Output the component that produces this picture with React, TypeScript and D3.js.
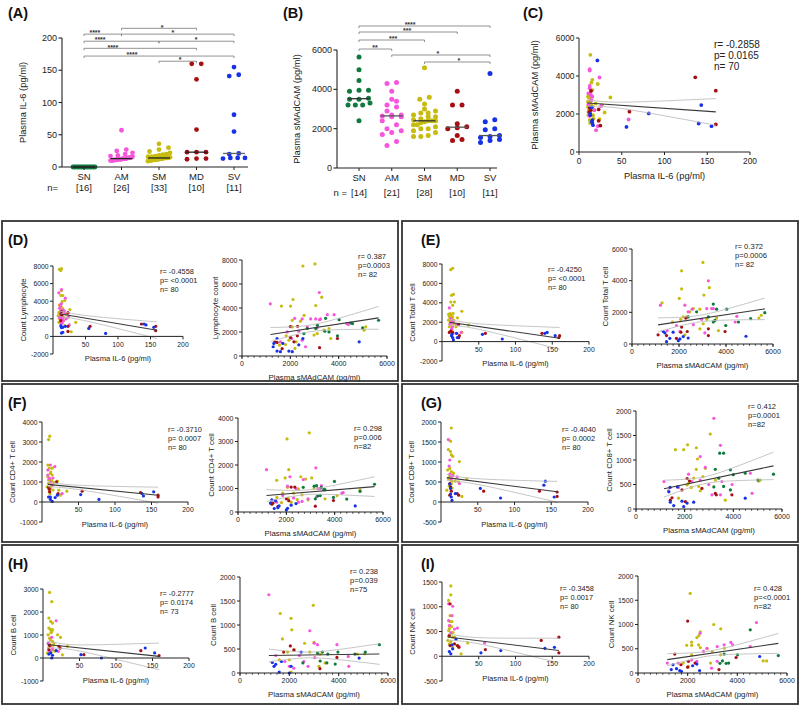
import React from 'react';
import * as d3 from 'd3';

const FONT = '"Liberation Sans", Arial, Helvetica, sans-serif';
const groups = ['SN', 'AM', 'SM', 'MD', 'SV'];
const groupColors = ['#107a3e', '#f656dc', '#c6bc0e', '#a50f13', '#1732e6'];
const colorOf = (g: string) => groupColors[groups.indexOf(g)];

// ---------- Panel A: plasma IL-6 by group ----------
const il6SN = [0, 0, 0, 0, 0, 0, 0, 0, 0, 0, 0, 0, 0, 0, 0, 0];
const il6AM = [57, 27, 25, 22, 20, 18, 17, 16, 15, 15, 14, 14, 13, 13, 13, 13, 12, 12, 12, 12, 11, 11, 11, 10, 10, 10];
const il6SM = [36, 30, 27, 24, 22, 20, 19, 18, 17, 16, 16, 15, 15, 15, 14, 14, 14, 14, 13, 13, 13, 13, 12, 12, 12, 12, 11, 11, 11, 10, 10, 10, 9];
const il6MD = [160, 160, 136, 58, 23, 23, 23, 13, 13, 12];
const il6SV = [155, 143, 141, 81, 55, 21, 20, 14, 14, 14, 13];
const il6Ticks = [0, 50, 100, 150, 200];
// [from, to, label, level value, label position (category index)]
const il6Sig: [number, number, string, number, number][] = [
  [1, 3, '*', 215, 2.08], [0, 1, '****', 206, 0.29], [1, 4, '*', 206, 2.37],
  [0, 2, '****', 195, 0.43], [2, 4, '*', 195, 2.99], [0, 3, '****', 184, 0.77],
  [0, 4, '****', 172, 1.28], [2, 3, '*', 164, 2.56],
];

// ---------- Panel B: plasma sMAdCAM by group ----------
const madSN = [5650, 5000, 4450, 3950, 3950, 3900, 3550, 3500, 3500, 3300, 3200, 3200, 3200, 2400];
const madAM = [4350, 4300, 3900, 3500, 3400, 3200, 3100, 2900, 2700, 2700, 2650, 2600, 2600, 2400, 2200, 2000, 1900, 1800, 1700, 1350, 1150];
const madSM = [5100, 3600, 3500, 3250, 3000, 2900, 2800, 2800, 2700, 2600, 2600, 2500, 2450, 2400, 2400, 2400, 2350, 2300, 2200, 2200, 2100, 2000, 2000, 1900, 1800, 1650, 1600, 1600];
const madMD = [3900, 3200, 3200, 2250, 2100, 2050, 2000, 1650, 1450, 1400];
const madSV = [4800, 2450, 2350, 2000, 1950, 1650, 1600, 1550, 1450, 1400, 1300];
const madTicks = [0, 2000, 4000, 6000];
const madSig: [number, number, string, number, number][] = [
  [0, 4, '****', 7220, 1.56], [0, 3, '***', 6915, 1.47], [0, 2, '***', 6508, 1.04],
  [0, 1, '**', 6050, 0.49], [1, 4, '*', 5745, 2.41], [2, 4, '*', 5390, 3.05],
];

type Pt = [number, number, string];

// ---------- Panel C: IL-6 vs sMAdCAM ----------
const cPts: Pt[] = [
  [13.3, 5115, 'SM'], [14.4, 3650, 'SM'], [15.6, 3260, 'SM'], [10.5, 2910, 'SM'], [12.5, 3000, 'SM'], [14, 2730, 'SM'], [10.5, 2380, 'SM'], [11.7, 2200, 'SM'], [13, 2030, 'SM'], [16.4, 1940, 'SM'], [17, 1760, 'SM'], [13, 1530, 'SM'], [22, 3580, 'SM'], [36.7, 2870, 'SM'], [27, 2470, 'SM'], [30, 2080, 'SM'], [24, 1730, 'SM'], [10.5, 2650, 'SM'], [14.5, 2470, 'SM'], [12.5, 1680, 'SM'], [15.6, 3800, 'SM'], [11, 1940, 'SM'], [19.5, 2560, 'SM'], [12, 2300, 'SM'], [11, 2100, 'SM'], [13, 2600, 'SM'], [16, 2400, 'SM'], [12, 2850, 'SM'], [18, 2200, 'SM'],
  [12.5, 4360, 'AM'], [12.5, 4290, 'AM'], [24, 3920, 'AM'], [12.5, 3480, 'AM'], [12.5, 3350, 'AM'], [11, 3090, 'AM'], [14.5, 2730, 'AM'], [26, 2420, 'AM'], [12.5, 1890, 'AM'], [22, 1360, 'AM'], [20, 1150, 'AM'], [58, 1710, 'AM'], [15.6, 2910, 'AM'], [18, 2200, 'AM'], [13, 2050, 'AM'], [11, 2500, 'AM'], [14, 3000, 'AM'],
  [14, 3210, 'MD'], [23, 2240, 'MD'], [23, 1640, 'MD'], [25, 1390, 'MD'], [59, 2120, 'MD'], [136, 3930, 'MD'], [160, 3230, 'MD'], [160, 1450, 'MD'], [13.7, 2200, 'MD'], [12.5, 2330, 'MD'], [12, 2100, 'MD'],
  [21.5, 4820, 'SV'], [14.8, 2350, 'SV'], [13.3, 1940, 'SV'], [15.6, 1680, 'SV'], [16.4, 1410, 'SV'], [15.6, 1530, 'SV'], [55.5, 1320, 'SV'], [81.6, 2030, 'SV'], [140, 1500, 'SV'], [143, 2470, 'SV'], [155, 1360, 'SV'], [13, 2000, 'SV'], [15, 1600, 'SV'],
];

// ---------- D: lymphocytes ----------
const dLeft: Pt[] = [
  [10, 7620, 'SM'], [13, 7700, 'SM'], [12, 7500, 'SM'], [13, 5220, 'SM'], [12, 4650, 'SM'], [10, 3580, 'SM'], [12, 3390, 'SM'], [15, 4650, 'SM'], [12, 2930, 'SM'], [12, 2550, 'SM'], [10, 2060, 'SM'], [13, 1900, 'SM'], [9, 1600, 'SM'], [26, 3050, 'SM'], [23, 2170, 'SM'], [35, 1600, 'SM'], [28, 530, 'SM'], [20, 2550, 'SM'], [15, 3120, 'SM'], [14, 3960, 'SM'], [18, 4080, 'SM'], [8, 2360, 'SM'], [18, 1220, 'SM'], [11, 2800, 'SM'], [16, 2200, 'SM'], [11, 2000, 'SM'], [14, 2400, 'SM'], [9, 2700, 'SM'], [16, 1800, 'SM'], [13, 3300, 'SM'], [12, 1700, 'SM'], [10, 2250, 'SM'], [17, 2900, 'SM'],
  [9, 4950, 'AM'], [13, 5330, 'AM'], [19, 4340, 'AM'], [13, 3700, 'AM'], [23, 2670, 'AM'], [24, 2250, 'AM'], [14, 1900, 'AM'], [12, 2860, 'AM'], [25, 1300, 'AM'], [15, 3000, 'AM'], [12, 2600, 'AM'], [14, 2100, 'AM'], [16, 1800, 'AM'], [10, 3200, 'AM'], [11, 2000, 'AM'], [13, 2450, 'AM'], [18, 2700, 'AM'], [12, 1600, 'AM'], [15, 2300, 'AM'], [20, 2000, 'AM'], [11, 3500, 'AM'], [17, 2900, 'AM'], [14, 1500, 'AM'], [10, 2200, 'AM'],
  [13, 2820, 'MD'], [13, 2360, 'MD'], [23, 2670, 'MD'], [12, 1790, 'MD'], [23, 1140, 'MD'], [23, 570, 'MD'], [57, 1140, 'MD'], [136, 1410, 'MD'], [158, 1140, 'MD'], [158, 650, 'MD'],
  [12, 1220, 'SV'], [15, 1030, 'SV'], [13, 380, 'SV'], [15, 460, 'SV'], [19, 1140, 'SV'], [55, 910, 'SV'], [81, 340, 'SV'], [140, 1410, 'SV'], [143, 1300, 'SV'], [155, 1030, 'SV'], [13, 1000, 'SV'],
];
const dRight: Pt[] = [
  [1630, 4160, 'SM'], [2110, 4710, 'SM'], [2010, 4160, 'SM'], [3050, 4210, 'SM'], [3300, 4900, 'SM'], [2080, 2980, 'SM'], [2570, 3390, 'SM'], [2420, 2900, 'SM'], [2080, 2420, 'SM'], [1830, 1680, 'SM'], [2980, 1740, 'SM'], [3110, 1870, 'SM'], [3390, 2150, 'SM'], [3600, 2290, 'SM'], [3670, 1460, 'SM'], [1800, 960, 'SM'], [2190, 630, 'SM'], [5120, 2420, 'SM'], [5050, 2150, 'SM'], [1940, 1320, 'SM'], [2240, 1180, 'SM'], [1550, 900, 'SM'], [2520, 7500, 'SM'], [3020, 7670, 'SM'],
  [1170, 4350, 'AM'], [3200, 5290, 'AM'], [2840, 3090, 'AM'], [2180, 3140, 'AM'], [2490, 3090, 'AM'], [3110, 2340, 'AM'], [3250, 3090, 'AM'], [3050, 3090, 'AM'], [3530, 3440, 'AM'], [4330, 2700, 'AM'], [4400, 2620, 'AM'], [3210, 3030, 'AM'], [2350, 2070, 'AM'], [2050, 1460, 'AM'], [2700, 2420, 'AM'], [1590, 1180, 'AM'], [3810, 3440, 'AM'], [2630, 770, 'AM'], [2490, 1320, 'AM'], [1870, 2010, 'AM'],
  [5650, 2980, 'SN'], [4990, 2340, 'SN'], [4570, 2700, 'SN'], [4020, 3030, 'SN'], [3950, 1680, 'SN'], [3430, 2070, 'SN'], [3600, 2010, 'SN'], [3120, 2560, 'SN'], [3050, 2290, 'SN'], [2700, 2290, 'SN'], [2560, 1870, 'SN'], [4500, 2750, 'SN'], [3460, 3140, 'SN'],
  [2010, 1540, 'MD'], [2290, 1680, 'MD'], [2150, 1180, 'MD'], [3950, 1460, 'MD'], [3210, 690, 'MD'], [1360, 1180, 'MD'], [1450, 1130, 'MD'], [1660, 610, 'MD'], [2000, 2450, 'MD'], [2300, 2480, 'MD'],
  [1450, 1460, 'SV'], [1320, 1050, 'SV'], [1450, 410, 'SV'], [1590, 360, 'SV'], [1940, 410, 'SV'], [2080, 360, 'SV'], [2350, 930, 'SV'], [2520, 1460, 'SV'], [4850, 1180, 'SV'], [1690, 1050, 'SV'], [1290, 770, 'SV'],
];

// ---------- E: total T cells ----------
const eLeft: Pt[] = [
  [12, 7420, 'SM'], [14.5, 7560, 'SM'], [13, 4770, 'SM'], [15.5, 4870, 'SM'], [12, 4080, 'SM'], [17, 4080, 'SM'], [11, 2890, 'SM'], [12, 2720, 'SM'], [14.5, 2550, 'SM'], [12, 2210, 'SM'], [11, 1870, 'SM'], [10, 1530, 'SM'], [9, 2210, 'SM'], [27, 3130, 'SM'], [36, 1700, 'SM'], [19, 1530, 'SM'], [21, 2450, 'SM'], [27, 950, 'SM'], [14.5, 3740, 'SM'], [11, 1020, 'SM'], [13.6, 1190, 'SM'], [16, 1870, 'SM'], [10, 2600, 'SM'], [13, 2400, 'SM'], [12, 2000, 'SM'], [15, 2900, 'SM'], [11, 2300, 'SM'], [9, 2800, 'SM'], [14, 1600, 'SM'], [16, 2200, 'SM'],
  [10, 3470, 'AM'], [13.6, 2110, 'AM'], [20, 1770, 'AM'], [26, 950, 'AM'], [19, 850, 'AM'], [12, 2380, 'AM'], [11, 1800, 'AM'], [14, 1500, 'AM'], [15, 2000, 'AM'], [13, 1300, 'AM'],
  [12, 1090, 'MD'], [22.7, 1770, 'MD'], [10, 950, 'MD'], [23.6, 610, 'MD'], [22.7, 410, 'MD'], [59, 850, 'MD'], [136, 850, 'MD'], [160, 610, 'MD'], [159, 410, 'MD'], [14.5, 950, 'MD'],
  [13.6, 750, 'SV'], [14.5, 410, 'SV'], [15.5, 170, 'SV'], [21, 410, 'SV'], [55, 750, 'SV'], [82, 270, 'SV'], [140, 850, 'SV'], [143, 950, 'SV'], [154, 610, 'SV'], [20, 850, 'SV'], [13, 600, 'SV'],
];
const eRight: Pt[] = [
  [1280, 2600, 'SM'], [2110, 3480, 'SM'], [2010, 2880, 'SM'], [3060, 3090, 'SM'], [3290, 3560, 'SM'], [2070, 1560, 'SM'], [2180, 1710, 'SM'], [2460, 2030, 'SM'], [2610, 2240, 'SM'], [3030, 1280, 'SM'], [3180, 1560, 'SM'], [3600, 1640, 'SM'], [3680, 850, 'SM'], [5500, 1810, 'SM'], [5400, 1640, 'SM'], [1720, 1390, 'SM'], [2320, 1710, 'SM'], [2890, 960, 'SM'], [2890, 2200, 'SM'], [2250, 580, 'SM'], [3020, 5150, 'SM'], [2110, 4620, 'SM'],
  [1210, 2450, 'AM'], [2250, 2450, 'AM'], [2560, 2200, 'AM'], [2390, 2030, 'AM'], [3180, 2240, 'AM'], [3390, 2240, 'AM'], [3460, 2240, 'AM'], [3250, 3990, 'AM'], [2960, 1560, 'AM'], [1890, 1170, 'AM'], [1500, 850, 'AM'], [3100, 700, 'AM'], [4460, 1750, 'AM'], [4390, 1390, 'AM'], [2610, 1220, 'AM'], [2040, 790, 'AM'],
  [3460, 2520, 'SN'], [3600, 2200, 'SN'], [4030, 2200, 'SN'], [3990, 1170, 'SN'], [4530, 1390, 'SN'], [5050, 1600, 'SN'], [5650, 1980, 'SN'], [3250, 1710, 'SN'], [3460, 1390, 'SN'], [3530, 1490, 'SN'], [2750, 2030, 'SN'], [2390, 1710, 'SN'],
  [1110, 580, 'MD'], [1470, 530, 'MD'], [2290, 1640, 'MD'], [1890, 360, 'MD'], [2080, 750, 'MD'], [3250, 960, 'MD'], [3250, 530, 'MD'], [3960, 790, 'MD'], [2350, 790, 'MD'], [2110, 1070, 'MD'],
  [1330, 790, 'SV'], [1400, 700, 'SV'], [1470, 150, 'SV'], [1610, 360, 'SV'], [1970, 210, 'SV'], [2040, 320, 'SV'], [2180, 470, 'SV'], [2390, 380, 'SV'], [4850, 490, 'SV'], [1750, 750, 'SV'],
];

// ---------- F: CD4+ T cells ----------
const fLeft: Pt[] = [
  [9, 3120, 'SM'], [10.6, 3290, 'SM'], [8, 1850, 'SM'], [10, 1690, 'SM'], [11.5, 1430, 'SM'], [8, 1260, 'SM'], [14, 1350, 'SM'], [9, 930, 'SM'], [13, 1100, 'SM'], [7, 760, 'SM'], [10, 510, 'SM'], [16, 980, 'SM'], [21, 1050, 'SM'], [23, 590, 'SM'], [34, 540, 'SM'], [25, 340, 'SM'], [14, 1690, 'SM'], [11.5, 670, 'SM'], [12, 1000, 'SM'], [10, 1200, 'SM'], [13, 800, 'SM'], [9, 1100, 'SM'], [15, 600, 'SM'], [11, 400, 'SM'], [12, 1500, 'SM'],
  [11.5, 1850, 'AM'], [17.5, 1770, 'AM'], [8, 1350, 'AM'], [10, 1180, 'AM'], [27.6, 420, 'AM'], [14, 840, 'AM'], [8, 1600, 'AM'], [12, 1000, 'AM'], [15, 1200, 'AM'],
  [9, 730, 'MD'], [10.6, 510, 'MD'], [20, 1010, 'MD'], [22, 420, 'MD'], [55, 540, 'MD'], [135, 470, 'MD'], [159, 340, 'MD'], [159, 250, 'MD'], [10, 640, 'MD'],
  [9, 250, 'SV'], [11.5, 250, 'SV'], [11.5, 130, 'SV'], [14, 30, 'SV'], [21, 340, 'SV'], [53, 370, 'SV'], [78, 130, 'SV'], [137, 420, 'SV'], [139, 300, 'SV'], [153, 510, 'SV'], [18, 220, 'SV'],
];
const fRight: Pt[] = [
  [2030, 3110, 'SM'], [2950, 3370, 'SM'], [1600, 1350, 'SM'], [1950, 1450, 'SM'], [2100, 1800, 'SM'], [2050, 1050, 'SM'], [2600, 1500, 'SM'], [2800, 1400, 'SM'], [3050, 1450, 'SM'], [2500, 980, 'SM'], [2300, 800, 'SM'], [2650, 730, 'SM'], [4100, 700, 'SM'], [5050, 940, 'SM'], [2900, 520, 'SM'], [1610, 620, 'SM'], [2080, 590, 'SM'], [1850, 800, 'SM'], [2450, 530, 'SM'], [3150, 1000, 'SM'], [1800, 400, 'SM'], [3600, 560, 'SM'], [2200, 420, 'SM'],
  [1180, 1800, 'AM'], [2150, 1500, 'AM'], [2700, 1380, 'AM'], [3220, 1880, 'AM'], [3450, 1120, 'AM'], [3400, 1000, 'AM'], [2400, 1000, 'AM'], [1850, 700, 'AM'], [2300, 600, 'AM'], [2500, 420, 'AM'], [2900, 560, 'AM'], [3300, 1000, 'AM'], [4300, 800, 'AM'], [4350, 830, 'AM'], [3250, 650, 'AM'], [2650, 450, 'AM'], [1600, 420, 'AM'], [2050, 1100, 'AM'],
  [3990, 1300, 'SN'], [3450, 1050, 'SN'], [3550, 950, 'SN'], [3600, 950, 'SN'], [3250, 1120, 'SN'], [3150, 1100, 'SN'], [5650, 1180, 'SN'], [5050, 880, 'SN'], [4500, 550, 'SN'], [3950, 620, 'SN'], [3400, 700, 'SN'], [3300, 680, 'SN'], [2700, 1050, 'SN'], [3200, 560, 'SN'],
  [1350, 380, 'MD'], [1450, 380, 'MD'], [1650, 230, 'MD'], [2200, 1060, 'MD'], [2350, 1060, 'MD'], [3200, 250, 'MD'], [3950, 490, 'MD'], [1400, 330, 'MD'], [2000, 560, 'MD'], [2100, 480, 'MD'],
  [1400, 520, 'SV'], [1350, 380, 'SV'], [1500, 150, 'SV'], [1650, 180, 'SV'], [1700, 260, 'SV'], [2000, 80, 'SV'], [2050, 160, 'SV'], [2200, 290, 'SV'], [2400, 360, 'SV'], [4850, 260, 'SV'], [1550, 480, 'SV'],
];

// ---------- G: CD8+ T cells ----------
const gLeft: Pt[] = [
  [14, 1850, 'SM'], [13, 1520, 'SM'], [10, 1310, 'SM'], [13, 1260, 'SM'], [14, 1180, 'SM'], [16, 1140, 'SM'], [25, 1010, 'SM'], [12, 840, 'SM'], [14, 760, 'SM'], [17, 720, 'SM'], [10, 590, 'SM'], [13, 550, 'SM'], [15, 520, 'SM'], [19.5, 520, 'SM'], [24, 505, 'SM'], [35, 570, 'SM'], [28.5, 140, 'SM'], [8, 295, 'SM'], [16, 670, 'SM'], [11, 400, 'SM'], [12, 650, 'SM'], [14, 450, 'SM'], [9, 800, 'SM'], [15, 350, 'SM'],
  [10, 1560, 'AM'], [12, 1050, 'AM'], [13, 670, 'AM'], [16, 660, 'AM'], [22, 630, 'AM'], [25, 460, 'AM'], [11, 900, 'AM'], [14, 580, 'AM'], [12, 700, 'AM'],
  [12, 460, 'MD'], [13, 380, 'MD'], [14, 270, 'MD'], [12, 170, 'MD'], [22, 210, 'MD'], [24, 170, 'MD'], [58, 270, 'MD'], [134, 270, 'MD'], [158, 250, 'MD'], [158, 140, 'MD'],
  [12, 450, 'SV'], [13, 340, 'SV'], [14, 125, 'SV'], [15, 40, 'SV'], [19.5, 210, 'SV'], [53.5, 340, 'SV'], [81, 100, 'SV'], [140, 420, 'SV'], [142, 520, 'SV'], [154, 125, 'SV'], [13, 200, 'SV'],
];
const gRight: Pt[] = [
  [1620, 1210, 'SM'], [1960, 1210, 'SM'], [2120, 1310, 'SM'], [2480, 1250, 'SM'], [3050, 1530, 'SM'], [2530, 1020, 'SM'], [2480, 810, 'SM'], [2850, 830, 'SM'], [2370, 630, 'SM'], [2160, 525, 'SM'], [2580, 460, 'SM'], [2640, 370, 'SM'], [3670, 180, 'SM'], [5110, 590, 'SM'], [5040, 570, 'SM'], [2100, 490, 'SM'], [2750, 660, 'SM'], [3260, 590, 'SM'], [1750, 220, 'SM'], [2270, 440, 'SM'],
  [1150, 560, 'AM'], [1340, 370, 'AM'], [1750, 440, 'AM'], [2300, 560, 'AM'], [2640, 1070, 'AM'], [2850, 850, 'AM'], [3470, 1300, 'AM'], [3530, 560, 'AM'], [3470, 290, 'AM'], [4700, 730, 'AM'], [4770, 320, 'AM'], [3120, 290, 'AM'], [2640, 590, 'AM'], [2160, 710, 'AM'], [2990, 500, 'AM'], [3950, 500, 'AM'], [3200, 1850, 'AM'],
  [3440, 1140, 'SN'], [3600, 1140, 'SN'], [3260, 810, 'SN'], [3400, 630, 'SN'], [3600, 460, 'SN'], [3880, 800, 'SN'], [4490, 730, 'SN'], [5010, 590, 'SN'], [5650, 710, 'SN'], [3880, 390, 'SN'], [3200, 450, 'SN'], [4000, 700, 'SN'],
  [1890, 390, 'MD'], [2200, 570, 'MD'], [2710, 420, 'MD'], [3260, 320, 'MD'], [3300, 290, 'MD'], [3940, 290, 'MD'], [1480, 230, 'MD'], [1410, 180, 'MD'], [2030, 150, 'MD'], [2100, 620, 'MD'],
  [1350, 350, 'SV'], [1400, 440, 'SV'], [1410, 140, 'SV'], [1550, 70, 'SV'], [1890, 160, 'SV'], [1960, 50, 'SV'], [2100, 120, 'SV'], [2370, 140, 'SV'], [4490, 220, 'SV'], [1700, 450, 'SV'],
];

// ---------- H: B cells ----------
const hLeft: Pt[] = [
  [9, 2850, 'SM'], [12, 2450, 'SM'], [8, 1740, 'SM'], [10.5, 1590, 'SM'], [13, 1520, 'SM'], [8, 1300, 'SM'], [10.5, 1230, 'SM'], [13, 1230, 'SM'], [7, 1010, 'SM'], [9, 870, 'SM'], [13, 720, 'SM'], [20, 1010, 'SM'], [24, 900, 'SM'], [33.5, 510, 'SM'], [26.6, 140, 'SM'], [8, 460, 'SM'], [13, 360, 'SM'], [6, 220, 'SM'], [15, 650, 'SM'], [11, 1100, 'SM'], [12, 1150, 'SM'], [10, 800, 'SM'], [14, 550, 'SM'], [9, 600, 'SM'], [16, 300, 'SM'], [11, 250, 'SM'],
  [18, 1620, 'AM'], [12, 900, 'AM'], [7, 650, 'AM'], [9, 320, 'AM'], [21, 290, 'AM'], [10, 500, 'AM'], [13, 400, 'AM'],
  [9, 550, 'MD'], [22, 510, 'MD'], [23.4, 430, 'MD'], [56, 145, 'MD'], [134, 320, 'MD'], [159, 100, 'MD'], [8, 360, 'MD'],
  [10.5, 220, 'SV'], [13, 120, 'SV'], [12, 0, 'SV'], [18, 320, 'SV'], [52, 145, 'SV'], [80, 0, 'SV'], [140, 435, 'SV'], [153, 220, 'SV'], [8, 170, 'SV'],
];
const hRight: Pt[] = [
  [1630, 1240, 'SM'], [2070, 1140, 'SM'], [2100, 900, 'SM'], [1720, 710, 'SM'], [2970, 1410, 'SM'], [2620, 620, 'SM'], [1930, 435, 'SM'], [2210, 480, 'SM'], [2000, 275, 'SM'], [2830, 435, 'SM'], [3240, 395, 'SM'], [4760, 395, 'SM'], [1590, 275, 'SM'], [3200, 140, 'SM'], [3450, 210, 'SM'], [2070, 20, 'SM'], [3000, 640, 'SM'], [5050, 400, 'SM'],
  [1170, 1630, 'AM'], [2830, 880, 'AM'], [3010, 620, 'AM'], [3140, 590, 'AM'], [3930, 590, 'AM'], [4390, 345, 'AM'], [4410, 140, 'AM'], [1450, 365, 'AM'], [1820, 240, 'AM'], [2000, 140, 'AM'], [2410, 365, 'AM'], [2590, 240, 'AM'], [2760, 140, 'AM'], [3030, 320, 'AM'], [2180, 100, 'AM'],
  [5650, 590, 'SN'], [4660, 395, 'SN'], [3970, 435, 'SN'], [3860, 185, 'SN'], [3340, 435, 'SN'], [3140, 415, 'SN'], [3520, 210, 'SN'], [5080, 435, 'SN'], [3560, 395, 'SN'], [2550, 210, 'SN'], [3250, 250, 'SN'],
  [2040, 565, 'MD'], [2180, 480, 'MD'], [1770, 435, 'MD'], [3240, 90, 'MD'], [3930, 325, 'MD'],
  [1310, 220, 'SV'], [1380, 140, 'SV'], [1680, 240, 'SV'], [1590, 20, 'SV'], [2070, 140, 'SV'], [2000, 0, 'SV'], [2480, 435, 'SV'], [4830, 310, 'SV'], [1450, 180, 'SV'],
];

// ---------- I: NK cells ----------
const iLeft: Pt[] = [
  [12, 1420, 'SM'], [9, 1130, 'SM'], [12, 1240, 'SM'], [13.6, 700, 'SM'], [11, 620, 'SM'], [9, 520, 'SM'], [12, 450, 'SM'], [14.5, 385, 'SM'], [8, 320, 'SM'], [10, 250, 'SM'], [17, 385, 'SM'], [21, 215, 'SM'], [35, 270, 'SM'], [26, 50, 'SM'], [14.5, 180, 'SM'], [11, 820, 'SM'], [10, 560, 'SM'], [13, 600, 'SM'], [9, 400, 'SM'], [12, 300, 'SM'], [15, 480, 'SM'], [11, 700, 'SM'],
  [9, 1060, 'AM'], [14.5, 1010, 'AM'], [13.6, 820, 'AM'], [9, 720, 'AM'], [21, 570, 'AM'], [17, 550, 'AM'], [10, 620, 'AM'], [58, 270, 'AM'], [23, 200, 'AM'], [12, 480, 'AM'],
  [11, 1060, 'MD'], [10, 420, 'MD'], [11, 215, 'MD'], [17, 250, 'MD'], [21, 215, 'MD'], [23, 180, 'MD'], [59, 135, 'MD'], [135, 320, 'MD'], [159, 385, 'MD'], [159, 70, 'MD'],
  [10, 95, 'SV'], [12, 50, 'SV'], [14.5, 150, 'SV'], [19, 340, 'SV'], [53, 70, 'SV'], [80, 115, 'SV'], [140, 160, 'SV'], [153, 180, 'SV'], [13.6, 230, 'SV'],
];
const iRight: Pt[] = [
  [2100, 1640, 'SM'], [3050, 1000, 'SM'], [3330, 910, 'SM'], [2510, 850, 'SM'], [2370, 730, 'SM'], [2450, 770, 'SM'], [1960, 570, 'SM'], [2160, 570, 'SM'], [2160, 375, 'SM'], [2510, 525, 'SM'], [2780, 500, 'SM'], [2990, 445, 'SM'], [3330, 375, 'SM'], [2920, 205, 'SM'], [3470, 510, 'SM'], [5040, 250, 'SM'], [5180, 250, 'SM'], [1820, 205, 'SM'], [2030, 135, 'SM'], [2440, 580, 'SM'], [2160, 635, 'SM'],
  [1620, 205, 'AM'], [1180, 205, 'AM'], [2370, 240, 'AM'], [2640, 445, 'AM'], [2780, 510, 'AM'], [3190, 545, 'AM'], [3740, 630, 'AM'], [3810, 580, 'AM'], [3470, 580, 'AM'], [4770, 1040, 'AM'], [4520, 545, 'AM'], [2960, 100, 'AM'], [2160, 270, 'AM'], [3190, 240, 'AM'], [2500, 820, 'AM'],
  [4520, 890, 'SN'], [3470, 390, 'SN'], [3650, 205, 'SN'], [5650, 360, 'SN'], [4010, 375, 'SN'], [3400, 250, 'SN'], [3300, 200, 'SN'], [3550, 200, 'SN'],
  [2000, 1070, 'MD'], [1480, 390, 'MD'], [1730, 170, 'MD'], [2030, 240, 'MD'], [2300, 205, 'MD'], [3260, 70, 'MD'], [3950, 320, 'MD'], [2000, 120, 'MD'],
  [1340, 70, 'SV'], [1550, 90, 'SV'], [1680, 50, 'SV'], [1750, 35, 'SV'], [1410, 170, 'SV'], [2370, 185, 'SV'], [2480, 50, 'SV'], [4900, 340, 'SV'], [2200, 150, 'SV'],
];

const il6AxisTicks = [50, 100, 150, 200];
const madAxisTicks = [0, 2000, 4000, 6000];

type Cfg = {
  pts: Pt[]; xDom: [number, number]; yDom: [number, number]; xr: [number, number]; yr: [number, number];
  xTicks: number[]; yTicks: number[]; minor?: number; xLabel: string; yLabel: string;
  ann: string[]; annX: number; annY: number; annDy: number;
  fit: [number, number, number, number]; ci: [number, number, number];
  tickFs: number; titleFs: number; annFs: number; r: number; xTitleDy: number; yTitleDx: number;
};

const INK = '#222';

function Scatter(p: Cfg) {
  const x = d3.scaleLinear().domain(p.xDom).range(p.xr);
  const y = d3.scaleLinear().domain(p.yDom).range(p.yr);
  const x0 = x(0), y0 = y(0);
  const [fx0, fy0, fx1, fy1] = p.fit;
  const slope = (fy1 - fy0) / (fx1 - fx0);
  const [xm, h0, h1] = p.ci;
  const k = Math.sqrt(Math.max(h1 * h1 - h0 * h0, 0)) / Math.abs(fx1 - xm);
  const xs = d3.range(0, 41).map(i => fx0 + (fx1 - fx0) * i / 40);
  const hw = (v: number) => Math.sqrt(h0 * h0 + k * k * (v - xm) * (v - xm));
  const fitAt = (v: number) => fy0 + slope * (v - fx0);
  const ln = d3.line<[number, number]>().x(d => x(d[0])).y(d => y(d[1]));
  const lo = ln(xs.map(v => [v, fitAt(v) - hw(v)] as [number, number]));
  const hi = ln(xs.map(v => [v, fitAt(v) + hw(v)] as [number, number]));
  const fitPath = ln([[fx0, fy0], [fx1, fy1]]);
  const minorTicks = p.minor ? d3.range(0, p.xDom[1] + 1, p.minor) : [];
  const yMid = (y(p.yDom[0]) + y(p.yDom[1])) / 2;
  return (
    <g fontFamily={FONT}>
      {p.pts.map((d, i) => (
        <circle key={i} cx={x(d[0])} cy={y(d[1])} r={p.r} fill={colorOf(d[2])} />
      ))}
      <path d={lo || ''} fill="none" stroke="#bdbdbd" strokeWidth={0.9} />
      <path d={hi || ''} fill="none" stroke="#bdbdbd" strokeWidth={0.9} />
      <path d={fitPath || ''} fill="none" stroke="#3a3a3a" strokeWidth={1.1} />
      <line x1={x0} x2={x0} y1={y(p.yDom[0])} y2={y(p.yDom[1])} stroke={INK} strokeWidth={1} />
      {p.yTicks.map(t => (
        <g key={'y' + t}>
          <line x1={x0 - 3} x2={x0} y1={y(t)} y2={y(t)} stroke={INK} strokeWidth={1} />
          <text x={x0 - 4.5} y={y(t)} textAnchor="end" dominantBaseline="central" fontSize={p.tickFs} fill={INK}>{t}</text>
        </g>
      ))}
      <line x1={x0} x2={x(p.xDom[1])} y1={y0} y2={y0} stroke={INK} strokeWidth={1} />
      {minorTicks.map(t => (
        <line key={'m' + t} x1={x(t)} x2={x(t)} y1={y0} y2={y0 + 1.8} stroke={INK} strokeWidth={0.8} />
      ))}
      {p.xTicks.map(t => (
        <g key={'x' + t}>
          <line x1={x(t)} x2={x(t)} y1={y0} y2={y0 + 3} stroke={INK} strokeWidth={1} />
          <text x={x(t)} y={y0 + 4 + p.tickFs * 0.55} textAnchor="middle" dominantBaseline="central" fontSize={p.tickFs} fill={INK}>{t}</text>
        </g>
      ))}
      <text x={(p.xr[0] + p.xr[1]) / 2} y={y0 + p.xTitleDy} textAnchor="middle" dominantBaseline="central" fontSize={p.titleFs} fill={INK}>{p.xLabel}</text>
      <text transform={`translate(${x0 + p.yTitleDx},${yMid}) rotate(-90)`} textAnchor="middle" dominantBaseline="central" fontSize={p.titleFs} fill={INK}>{p.yLabel}</text>
      {p.ann.map((s, i) => (
        <text key={'a' + i} x={p.annX} y={p.annY + i * p.annDy} dominantBaseline="central" fontSize={p.annFs} fill={INK}>{s}</text>
      ))}
    </g>
  );
}

function swarm(values: number[], y: (v: number) => number, cx: number, binPx: number, step: number, maxW: number) {
  const sorted = values.slice().sort((a, b) => a - b);
  const bins: number[][] = [];
  for (const v of sorted) {
    const last = bins[bins.length - 1];
    if (last && Math.abs(y(last[0]) - y(v)) < binPx) last.push(v); else bins.push([v]);
  }
  const out: { x: number; y: number }[] = [];
  for (const b of bins) {
    const k = b.length;
    const sp = k > 1 ? Math.min(step, maxW / (k - 1)) : 0;
    b.forEach((v, i) => out.push({ x: cx + (i - (k - 1) / 2) * sp, y: y(v) }));
  }
  return out;
}

function DotPlot(props: {
  data: number[][]; yDom: [number, number]; yr: [number, number]; xr: [number, number]; axisX: number; axisEnd: number;
  ticks: number[]; sig: [number, number, string, number, number][]; yLabel: string; yLabelX: number;
  catY: number; nY: number; nLabel: string; nX: number; r: number; binPx: number; medColors: string[];
}) {
  const p = props;
  const y = d3.scaleLinear().domain(p.yDom).range(p.yr);
  const x = d3.scalePoint<string>().domain(groups).range(p.xr);
  const idx = d3.scaleLinear().domain([0, groups.length - 1]).range(p.xr);
  const y0 = y(p.yDom[0]);
  return (
    <g fontFamily={FONT}>
      {p.data.map((vals, gi) => {
        const cx = x(groups[gi]) as number;
        const pts = swarm(vals, y, cx, p.binPx, 9.5, 22);
        const med = d3.median(vals) as number;
        return (
          <g key={gi}>
            {pts.map((d, i) => <circle key={i} cx={d.x} cy={d.y} r={p.r} fill={groupColors[gi]} />)}
            <line x1={cx - 11} x2={cx + 11} y1={y(med)} y2={y(med)} stroke={p.medColors[gi]} strokeWidth={1.3} />
          </g>
        );
      })}
      <line x1={p.axisX} x2={p.axisX} y1={y0} y2={y(p.yDom[1])} stroke={INK} strokeWidth={1.1} />
      {p.ticks.map(t => (
        <g key={t}>
          <line x1={p.axisX - 3.5} x2={p.axisX} y1={y(t)} y2={y(t)} stroke={INK} strokeWidth={1.1} />
          <text x={p.axisX - 5} y={y(t)} textAnchor="end" dominantBaseline="central" fontSize={9} fill={INK}>{t}</text>
        </g>
      ))}
      <line x1={p.axisX} x2={p.axisEnd} y1={y0} y2={y0} stroke={INK} strokeWidth={1.1} />
      {groups.map((g, gi) => (
        <g key={g}>
          <line x1={x(g) as number} x2={x(g) as number} y1={y0} y2={y0 + 3} stroke={INK} strokeWidth={1} />
          <text x={x(g) as number} y={p.catY} textAnchor="middle" dominantBaseline="central" fontSize={9.5} fill={INK}>{g}</text>
          <text x={x(g) as number} y={p.nY} textAnchor="middle" dominantBaseline="central" fontSize={9.5} fill={INK}>[{p.data[gi].length}]</text>
        </g>
      ))}
      <text x={p.nX} y={p.nY} textAnchor="end" dominantBaseline="central" fontSize={9.5} fill={INK}>{p.nLabel}</text>
      <text transform={`translate(${p.yLabelX},${(y0 + y(p.yDom[1])) / 2}) rotate(-90)`} textAnchor="middle" dominantBaseline="central" fontSize={9.3} fill={INK}>{p.yLabel}</text>
      {p.sig.map((s, i) => {
        const xa = x(groups[s[0]]) as number, xb = x(groups[s[1]]) as number, yy = y(s[3]);
        return (
          <g key={'s' + i}>
            <path d={`M${xa},${yy + 2}V${yy}H${xb}V${yy + 2}`} fill="none" stroke="#777" strokeWidth={0.8} />
            <text x={idx(s[4])} y={yy + 1.2} textAnchor="middle" fontSize={7} fontWeight="bold" fill="#333">{s[2]}</text>
          </g>
        );
      })}
    </g>
  );
}

const boxes = [
  { label: '(D)', x: 2, y: 221, w: 396, h: 160 },
  { label: '(E)', x: 402, y: 221, w: 396, h: 160 },
  { label: '(F)', x: 2, y: 384, w: 396, h: 158 },
  { label: '(G)', x: 402, y: 384, w: 396, h: 158 },
  { label: '(H)', x: 2, y: 545, w: 396, h: 159 },
  { label: '(I)', x: 402, y: 545, w: 396, h: 159 },
];

const leftBase = { xDom: [0, 200] as [number, number], xTicks: il6AxisTicks, xLabel: 'Plasma IL-6 (pg/ml)', tickFs: 6.8, titleFs: 7.6, annFs: 7.4, r: 1.6, xTitleDy: 22, yTitleDx: -30, annDy: 9 };
const rightBase = { xDom: [0, 6000] as [number, number], xTicks: madAxisTicks, minor: 250, xLabel: 'Plasma sMAdCAM (pg/ml)', tickFs: 7, titleFs: 7.8, annFs: 7.6, r: 1.6, xTitleDy: 21, yTitleDx: -27, annDy: 9 };

const scatters: Cfg[] = [
  { ...leftBase, pts: dLeft, yDom: [-2000, 8000], xr: [53, 183], yr: [354, 266], yTicks: [-2000, 0, 2000, 4000, 6000, 8000], yLabel: 'Count Lymphocyte', ann: ['r= -0.4558', 'p= <0.0001', 'n= 80'], annX: 160, annY: 271, fit: [10, 2575, 160, 700], ci: [30, 270, 950] },
  { ...rightBase, pts: dRight, yDom: [0, 8000], xr: [242, 387], yr: [356, 260], yTicks: [0, 2000, 4000, 6000, 8000], yLabel: 'Lymphocyte count', ann: ['r= 0.387', 'p=0.0003', 'n= 82'], annX: 358, annY: 256, fit: [1180, 1790, 5650, 3180], ci: [2800, 280, 950] },
  { ...leftBase, pts: eLeft, yDom: [-2000, 8000], xr: [442, 589], yr: [361, 264], yTicks: [-2000, 0, 2000, 4000, 6000, 8000], yLabel: 'Count Total T cell', ann: ['r= -0.4250', 'p= <0.0001', 'n= 80'], annX: 548, annY: 269, fit: [10, 1990, 160, 340], ci: [30, 230, 1120] },
  { ...rightBase, pts: eRight, yDom: [0, 6000], xr: [632, 773], yr: [344, 249], yTicks: [0, 2000, 4000, 6000], yLabel: 'Count Total T cell', ann: ['r= 0.372', 'p=0.0006', 'n= 82'], annX: 735, annY: 246, fit: [1110, 1210, 5650, 2220], ci: [2800, 210, 680] },
  { ...leftBase, pts: fLeft, yDom: [-1000, 4000], xr: [42, 188], yr: [522, 422], yTicks: [-1000, 0, 1000, 2000, 3000, 4000], yLabel: 'Count CD4+ T cell', ann: ['r= -0.3710', 'p= 0.0007', 'n= 80'], annX: 168, annY: 429, fit: [8, 880, 159, 340], ci: [30, 90, 400] },
  { ...rightBase, pts: fRight, yDom: [0, 4000], xr: [238, 383], yr: [512, 418], yTicks: [0, 1000, 2000, 3000, 4000], yLabel: 'Count CD4+ T cell', ann: ['r= 0.298', 'p=0.006', 'n=82'], annX: 354, annY: 428, fit: [1180, 700, 5650, 1080], ci: [2800, 100, 420] },
  { ...leftBase, pts: gLeft, yDom: [-500, 2000], xr: [441, 588], yr: [522, 422], yTicks: [-500, 0, 500, 1000, 1500, 2000], yLabel: 'Count CD8+ T cell', ann: ['r= -0.4040', 'p= 0.0002', 'n= 80'], annX: 562, annY: 429, fit: [8, 610, 158, 255], ci: [30, 60, 260] },
  { ...rightBase, pts: gRight, yDom: [0, 2000], xr: [636, 782], yr: [509, 411], yTicks: [0, 500, 1000, 1500, 2000], yLabel: 'Count CD8+ T cell', ann: ['r= 0.412', 'p=0.0001', 'n=82'], annX: 748, annY: 406, fit: [1150, 415, 5650, 880], ci: [2800, 70, 280] },
  { ...leftBase, pts: hLeft, yDom: [-1000, 3000], xr: [43, 189], yr: [681, 589], yTicks: [-1000, 0, 1000, 2000, 3000], yLabel: 'Count B cell', ann: ['r= -0.2777', 'p= 0.0174', 'n= 73'], annX: 160, annY: 593, fit: [6, 585, 159, 70], ci: [30, 100, 580] },
  { ...rightBase, pts: hRight, yDom: [0, 2000], xr: [240, 388], yr: [673, 577], yTicks: [0, 500, 1000, 1500, 2000], yLabel: 'Count B cell', ann: ['r= 0.238', 'p=0.039', 'n=75'], annX: 350, annY: 571, fit: [1170, 365, 5650, 395], ci: [2800, 60, 215] },
  { ...leftBase, pts: iLeft, yDom: [-500, 1500], xr: [442, 589], yr: [681, 582], yTicks: [-500, 0, 500, 1000, 1500], yLabel: 'Count NK cell', ann: ['r= -0.3458', 'p= 0.0017', 'n= 80'], annX: 560, annY: 588, fit: [8, 390, 159, 115], ci: [30, 50, 250] },
  { ...rightBase, pts: iRight, yDom: [0, 2000], xr: [638, 787], yr: [673, 576], yTicks: [0, 500, 1000, 1500, 2000], yLabel: 'Count NK cell', ann: ['r= 0.428', 'p=<0.0001', 'n=82'], annX: 754, annY: 588, fit: [1180, 275, 5650, 610], ci: [2800, 50, 205] },
];

const cCfg: Cfg = {
  pts: cPts, xDom: [0, 200], yDom: [0, 6000], xr: [579, 750], yr: [152, 38], xTicks: [0, 50, 100, 150, 200], yTicks: [0, 2000, 4000, 6000],
  xLabel: 'Plasma IL-6 (pg/ml)', yLabel: 'Plasma sMAdCAM (pg/ml)', ann: ['r= -0.2858', 'p= 0.0165', 'n= 70'], annX: 714, annY: 44, annDy: 11,
  fit: [10, 2580, 160, 2110], ci: [30, 130, 700], tickFs: 8.4, titleFs: 9.3, annFs: 10, r: 1.9, xTitleDy: 24, yTitleDx: -44,
};

export default function App() {
  return (
    <svg width={800} height={707} style={{ position: 'absolute', left: 0, top: 0, background: '#fff' }} fontFamily={FONT}>
      <rect x={0} y={0} width={800} height={707} fill="#fff" />
      <text x={8} y={13} dominantBaseline="central" fontSize={14.5} fontWeight="bold" fill="#111">(A)</text>
      <text x={283} y={13} dominantBaseline="central" fontSize={14.5} fontWeight="bold" fill="#111">(B)</text>
      <text x={523} y={13} dominantBaseline="central" fontSize={14.5} fontWeight="bold" fill="#111">(C)</text>
      <DotPlot data={[il6SN, il6AM, il6SM, il6MD, il6SV]} yDom={[0, 200]} yr={[167, 38]} xr={[84, 234]} axisX={62} axisEnd={248}
        ticks={il6Ticks} sig={il6Sig} yLabel="Plasma IL-6 (pg/ml)" yLabelX={23} catY={176} nY={187} nLabel="n=" nX={58} r={2.4} binPx={4.5}
        medColors={['#222', '#222', '#222', '#222', '#666']} />
      <DotPlot data={[madSN, madAM, madSM, madMD, madSV]} yDom={[0, 6000]} yr={[168, 50]} xr={[359, 490]} axisX={337} axisEnd={497}
        ticks={madTicks} sig={madSig} yLabel="Plasma sMAdCAM (pg/ml)" yLabelX={297} catY={177} nY={192} nLabel="n =" nX={347} r={2.5} binPx={4.5}
        medColors={['#333', '#555', '#333', '#555', '#555']} />
      <Scatter {...cCfg} />
      {boxes.map(b => (
        <g key={b.label}>
          <rect x={b.x} y={b.y} width={b.w} height={b.h} fill="none" stroke="#333" strokeWidth={1.8} />
          <text x={b.x + (b.x > 100 ? 19 : 6)} y={b.y + 19} dominantBaseline="central" fontSize={14.5} fontWeight="bold" fill="#111">{b.label}</text>
        </g>
      ))}
      {scatters.map((s, i) => <Scatter key={i} {...s} />)}
    </svg>
  );
}
